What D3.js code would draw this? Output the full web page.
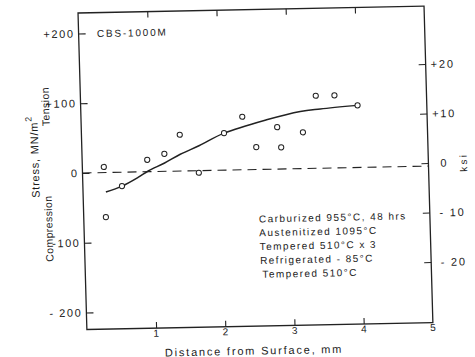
<!DOCTYPE html>
<html>
<head>
<meta charset="utf-8">
<script src="https://cdn.jsdelivr.net/npm/d3@7"></script>
<style>
  html, body { margin: 0; padding: 0; background: #fff; }
  svg { display: block; }
  text { font-family: "Liberation Sans", "DejaVu Sans", sans-serif; fill: #1c1c1c; }
</style>
</head>
<body>
<svg id="chart" width="475" height="357"></svg>
<script>
// ---------- data ----------
const title = "CBS-1000M";
const xTicks = [1, 2, 3, 4, 5];
const xTickLabels = ["1", "2", "3", "4", "5"];
const yTicks = [-200, -100, 0, 100, 200];
const yTickLabels = ["- 200", "-100", "0", "+100", "+200"];
const ksiTicks = [-20, -10, 0, 10, 20];
const ksiTickLabels = ["- 20", "- 10", "0", "+10", "+20"];

// measured points (distance mm, stress MN/m^2)
const pointDistance = [0.31, 0.32, 0.565, 0.94, 1.19, 1.42, 1.68, 2.06, 2.33, 2.52, 2.83, 2.88, 3.20, 3.40, 3.67, 4.0];
const pointStress   = [8,   -64,  -20,   17,   25,   52,   -3,   53,   76,   32,   60,   31,   52,   104,  104,  89];

// hand-drawn trend curve
const curveDistance = [0.33, 0.565, 0.8, 0.95, 1.19, 1.42, 1.7, 2.06, 2.68, 3.17, 3.46, 4.0];
const curveStress   = [-28,  -20,   -8,  1,    12,   24,   36,  53,   71,   82,   85,   89];

const notes = ["Carburized 955°C, 48 hrs", "Austenitized 1095°C", "Tempered 510°C x 3", "Refrigerated - 85°C", "Tempered 510°C"];

// ---------- layout ----------
const svg = d3.select("#chart");
// slight skew of the scanned original
const g = svg.append("g").attr("transform", "matrix(1,-0.02,0.028,1,-4.84,1.64)");

const x = d3.scaleLinear().domain([0, 5]).range([82.5, 428.5]);
const y = d3.scaleLinear().domain([-224.4, 229.4]).range([329.5, 13]);
const yKsi = d3.scaleLinear().domain([-20, 20]).range([269, 71]);

const ink = "#222";

// frame
g.append("rect")
  .attr("x", x(0)).attr("y", y(229.4))
  .attr("width", x(5) - x(0)).attr("height", y(-224.4) - y(229.4))
  .attr("fill", "none").attr("stroke", ink).attr("stroke-width", 1.3);

// bottom axis (ticks inward)
const bottomAxis = d3.axisBottom(x).tickValues(xTicks.slice(0, 4)).tickSize(-6).tickFormat("");
const gb = g.append("g").attr("transform", `translate(0,${y(-224.4)})`).call(bottomAxis);
gb.select(".domain").remove();
gb.selectAll("line").attr("stroke", ink).attr("stroke-width", 1.1);

g.selectAll(".xlab").data(xTicks).enter().append("text")
  .attr("x", d => x(d)).attr("y", 338)
  .attr("text-anchor", "middle").attr("font-size", 10)
  .attr("fill", "#444")
  .text((d, i) => xTickLabels[i]);

// top axis (ticks inward)
const topAxis = d3.axisTop(x).tickValues(xTicks.slice(0, 4)).tickSize(-6).tickFormat("");
const gt = g.append("g").attr("transform", `translate(0,${y(229.4)})`).call(topAxis);
gt.select(".domain").remove();
gt.selectAll("line").attr("stroke", ink).attr("stroke-width", 1.1);

// left axis
const leftAxis = d3.axisLeft(y).tickValues(yTicks).tickSize(-7).tickFormat("");
const gl = g.append("g").attr("transform", `translate(${x(0)},0)`).call(leftAxis);
gl.select(".domain").remove();
gl.selectAll("line").attr("stroke", ink).attr("stroke-width", 1.1);
g.selectAll(".ylab").data(yTicks).enter().append("text")
  .attr("x", x(0) - 4).attr("y", d => y(d) + 4)
  .attr("text-anchor", "end").attr("font-size", 11).attr("letter-spacing", 1.6)
  .text((d, i) => yTickLabels[i]);

// right axis (ksi)
const rightAxis = d3.axisRight(yKsi).tickValues(ksiTicks).tickSize(-7).tickFormat("");
const gr = g.append("g").attr("transform", `translate(${x(5)},0)`).call(rightAxis);
gr.select(".domain").remove();
gr.selectAll("line").attr("stroke", ink).attr("stroke-width", 1.1);
g.selectAll(".klab").data(ksiTicks).enter().append("text")
  .attr("x", d => x(5) + (d > 0 ? 5 : d === 0 ? 12 : 9.5))
  .attr("y", d => yKsi(d) + 4)
  .attr("font-size", 11).attr("letter-spacing", 1.8)
  .text((d, i) => ksiTickLabels[i]);

g.append("text")
  .attr("transform", `translate(467,${yKsi(0)}) rotate(-90)`)
  .attr("text-anchor", "middle").attr("font-size", 10).attr("letter-spacing", 2.2)
  .text("ksi");

// zero dashed line
g.append("line")
  .attr("x1", x(0)).attr("x2", x(5))
  .attr("y1", y(0)).attr("y2", y(0))
  .attr("stroke", ink).attr("stroke-width", 1.1)
  .attr("stroke-dasharray", "9,6");

// trend curve
const curveData = curveDistance.map((d, i) => [d, curveStress[i]]);
g.append("path")
  .datum(curveData)
  .attr("d", d3.line().x(d => x(d[0])).y(d => y(d[1])).curve(d3.curveCatmullRom.alpha(0.5)))
  .attr("fill", "none").attr("stroke", ink).attr("stroke-width", 1.5);

// points
const pts = pointDistance.map((d, i) => [d, pointStress[i]]);
g.selectAll(".pt").data(pts).enter().append("circle")
  .attr("cx", d => x(d[0])).attr("cy", d => y(d[1])).attr("r", 2.6)
  .attr("fill", "#fff").attr("stroke", ink).attr("stroke-width", 1);

// title inside
g.append("text")
  .attr("x", 100.8).attr("y", 37.4)
  .attr("font-size", 10).attr("letter-spacing", 1.8)
  .text(title);

// annotation
g.selectAll(".note").data(notes).enter().append("text")
  .attr("x", (d, i) => i === 4 ? 259.5 : 257.5)
  .attr("y", (d, i) => 225.9 + i * 13.85)
  .attr("font-size", 10).attr("letter-spacing", 1.45)
  .text(d => d);

// axis titles
const ylab = g.append("text")
  .attr("transform", "translate(39,156) rotate(-90)")
  .attr("text-anchor", "middle").attr("font-size", 11).attr("letter-spacing", 0.8);
ylab.append("tspan").text("Stress, MN/m");
ylab.append("tspan").attr("dy", -6).attr("font-size", 9).text("2");

g.append("text")
  .attr("transform", "translate(51,106) rotate(-90)")
  .attr("text-anchor", "middle").attr("font-size", 10.5).attr("letter-spacing", 0.4)
  .text("Tension");

g.append("text")
  .attr("transform", "translate(51,228) rotate(-90)")
  .attr("text-anchor", "middle").attr("font-size", 10.5).attr("letter-spacing", 0.4)
  .text("Compression");

g.append("text")
  .attr("x", 249).attr("y", 358)
  .attr("text-anchor", "middle").attr("font-size", 11).attr("letter-spacing", 1.8)
  .text("Distance from Surface, mm");
</script>
</body>
</html>
